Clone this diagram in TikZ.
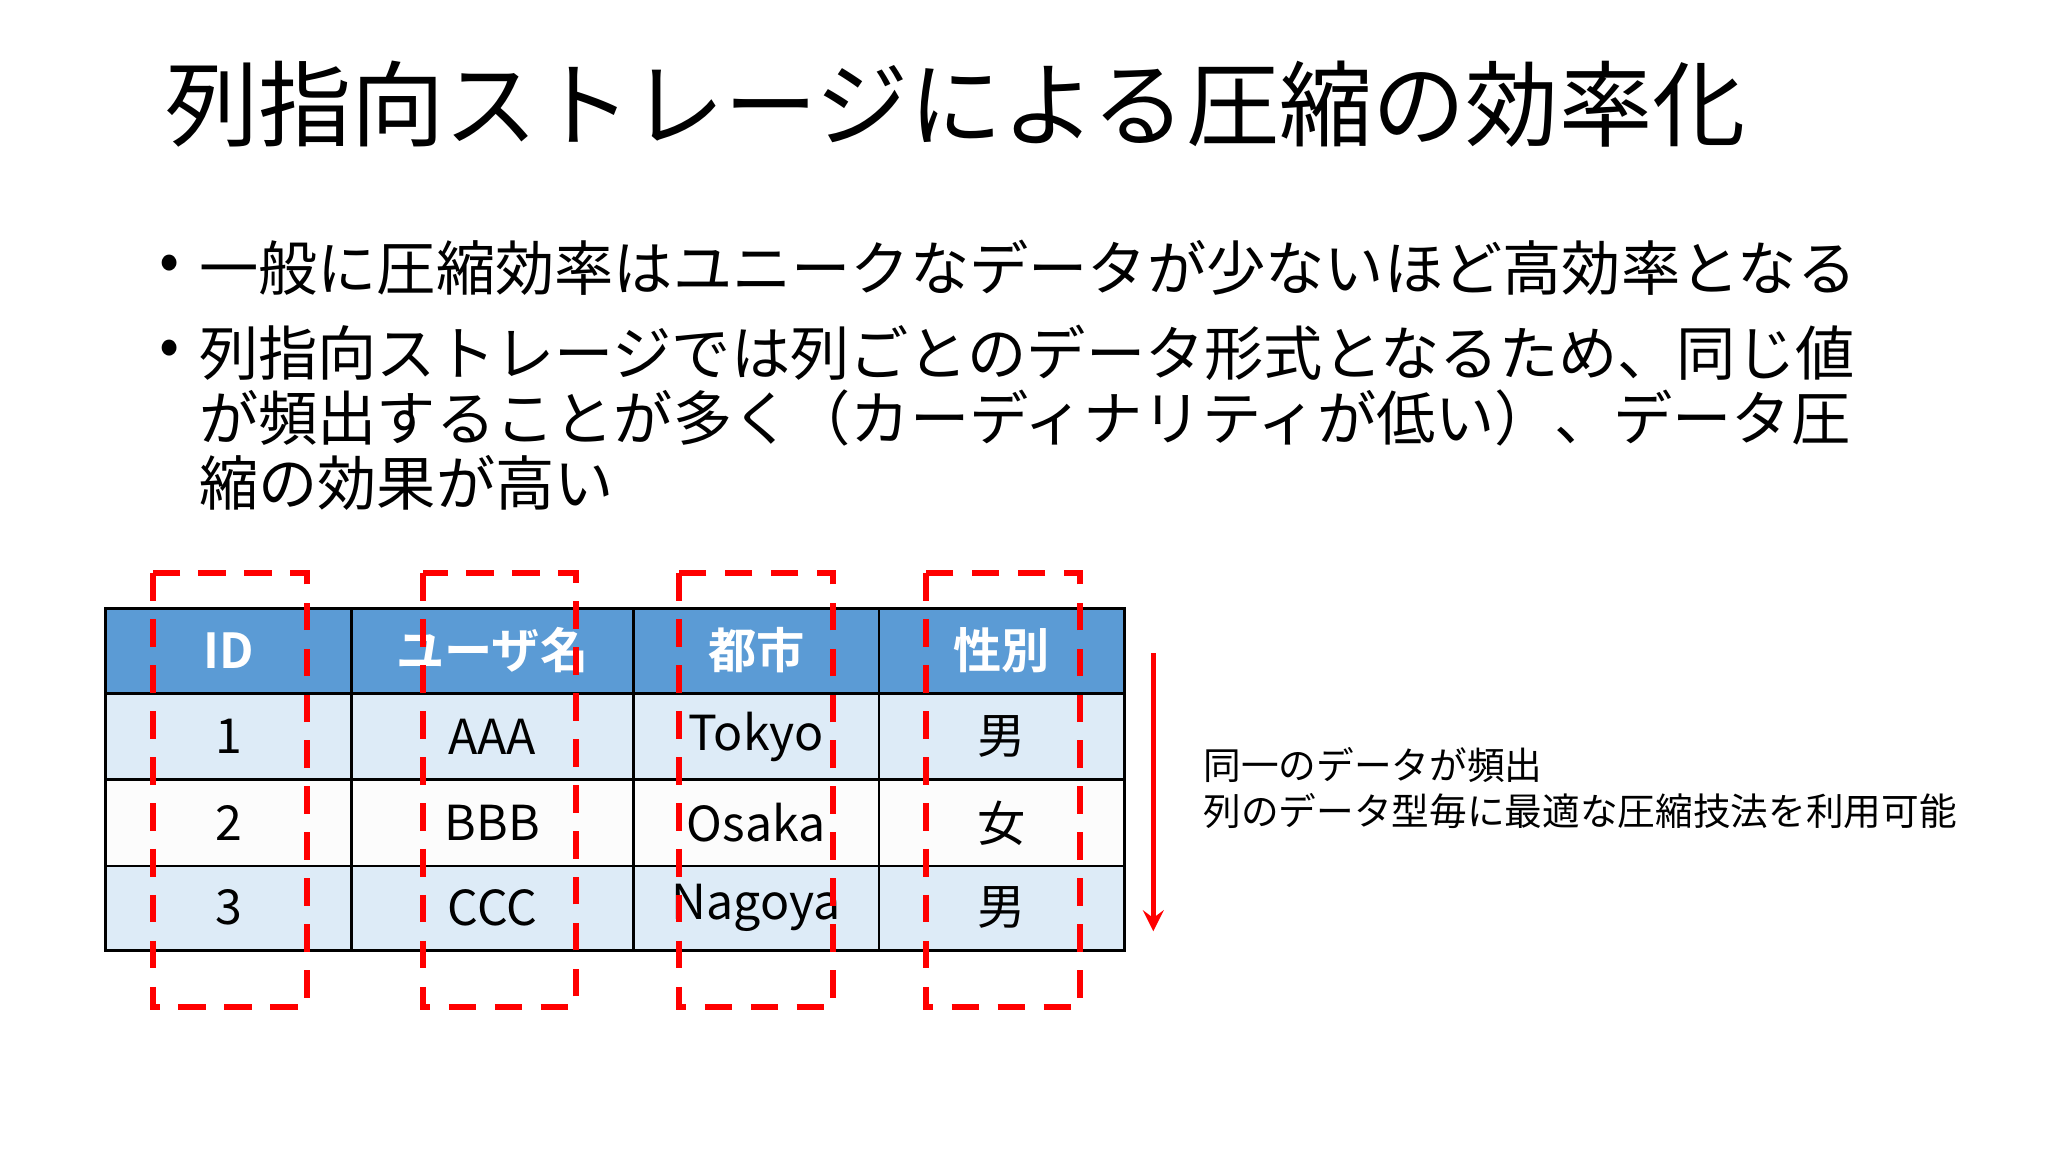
\documentclass[tikz,border=0pt]{standalone}
\usepackage{fontspec}
\setmainfont{Noto Sans CJK JP}
\newfontfamily\jpbold{Noto Sans CJK JP Bold}
\begin{document}
\begin{tikzpicture}[x=0.01cm,y=-0.01cm,
  cell/.style={font=\fontsize{10.5}{12}\selectfont, anchor=center},
  hcell/.style={font=\jpbold\fontsize{10.5}{12}\selectfont, text=white, anchor=center},
  redbox/.style={draw=red, line width=1.3pt, dash pattern=on 6pt off 4pt},
  grid/.style={draw=black, line width=0.6pt}]
\useasboundingbox (0,0) rectangle (1568,882);
\fill[white] (0,0) rectangle (1568,882);
\node[anchor=west, font=\fontsize{20.3}{24}\selectfont] (title) at (114,80) {列指向ストレージによる圧縮の効率化};
\begin{scope}[font=\fontsize{12.9}{15}\selectfont]
\node[anchor=west] (b1) at (110,205) {•};
\node[anchor=west] (t1) at (140,205) {一般に圧縮効率はユニークなデータが少ないほど高効率となる};
\node[anchor=west] (b2) at (110,270) {•};
\node[anchor=west] (t2) at (140,270) {列指向ストレージでは列ごとのデータ形式となるため、同じ値};
\node[anchor=west] (t3) at (140,320) {が頻出することが多く（カーディナリティが低い）、データ圧};
\node[anchor=west] (t4) at (140,370) {縮の効果が高い};
\end{scope}
% table
\fill[fill={rgb,255:red,91;green,155;blue,213}] (81,466) rectangle (861,531);
\fill[fill={rgb,255:red,221;green,235;blue,247}] (81,531) rectangle (861,597);
\fill[fill={rgb,255:red,252;green,252;blue,252}] (81,597) rectangle (861,663);
\fill[fill={rgb,255:red,221;green,235;blue,247}] (81,663) rectangle (861,728);
\draw[grid] (81,466) rectangle (861,728);
\foreach \y in {531,597,663} \draw[grid] (81,\y) -- (861,\y);
\foreach \x in {269,485,673} \draw[grid] (\x,466) -- (\x,728);
\node[hcell] (h1) at (175,498) {ID};
\node[hcell] (h2) at (377,498) {ユーザ名};
\node[hcell] (h3) at (579,498) {都市};
\node[hcell] (h4) at (767,498) {性別};
\node[cell] at (175,564) {1};
\node[cell] at (377,564) {AAA};
\node[cell] at (579,564) {Tokyo};
\node[cell] at (767,564) {男};
\node[cell] at (175,630) {2};
\node[cell] at (377,630) {BBB};
\node[cell] at (579,630) {Osaka};
\node[cell] at (767,630) {女};
\node[cell] at (175,695) {3};
\node[cell] at (377,695) {CCC};
\node[cell] at (579,695) {Nagoya};
\node[cell] at (767,695) {男};
\foreach \a/\b in {117/235,324/441,520/638,709/827}
  \draw[redbox] (\a,439) rectangle (\b,771);
\coordinate (as) at (883,500);
\coordinate (ae) at (883,713);
\draw[red, line width=1pt, -stealth] (as) -- (ae);
\node[anchor=west, font=\fontsize{8.2}{10}\selectfont] (s1) at (909,586) {同一のデータが頻出};
\node[anchor=west, font=\fontsize{8.2}{10}\selectfont] (s2) at (909,621) {列のデータ型毎に最適な圧縮技法を利用可能};
\end{tikzpicture}
\end{document}
